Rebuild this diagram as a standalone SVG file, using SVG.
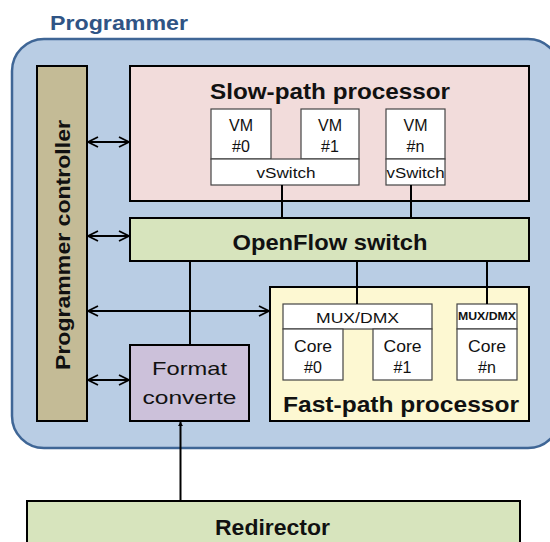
<svg xmlns="http://www.w3.org/2000/svg" width="550" height="542" viewBox="0 0 550 542">
  <defs>
    <style>
      .box { stroke: #000; stroke-width: 2; }
      .sub { fill: #fff; stroke: #444; stroke-width: 1.2; }
      .title { font-family: "Liberation Sans", Arial, sans-serif; font-weight: bold; fill: #111; text-anchor: middle; }
      .small { font-family: "Liberation Sans", Arial, sans-serif; fill: #111; text-anchor: middle; }
      .link { stroke: #000; stroke-width: 2; fill: none; }
    </style>
    <marker id="openArrow" viewBox="0 0 12 12" refX="11" refY="6" markerWidth="12" markerHeight="12" markerUnits="userSpaceOnUse" orient="auto-start-reverse">
      <path d="M1,1 L11,6 L1,11" fill="none" stroke="#000" stroke-width="1.8"/>
    </marker>
    <marker id="solidArrow" viewBox="0 0 8 10" refX="8" refY="5" markerWidth="8" markerHeight="5" markerUnits="userSpaceOnUse" orient="auto">
      <path d="M0,0 L8,5 L0,10 Z" fill="#000"/>
    </marker>
  </defs>

  <rect width="550" height="542" fill="#fff"/>

  <!-- Programmer enclosure -->
  <g id="programmer">
    <rect x="12" y="39" width="548" height="409" rx="32" ry="32" fill="#b9cde4" stroke="#3f6696" stroke-width="2.5"/>
    <text x="50" y="30" font-family="'Liberation Sans', Arial, sans-serif" font-weight="bold" font-size="20" fill="#2f5485" textLength="138" lengthAdjust="spacingAndGlyphs">Programmer</text>
  </g>

  <g id="controller">
    <rect class="box" x="37" y="66" width="50" height="355" fill="#c4bb96"/>
    <text class="title" font-size="21" transform="translate(70,245) rotate(-90)" textLength="250" lengthAdjust="spacingAndGlyphs">Programmer controller</text>
  </g>

  <g id="slow-path">
    <rect class="box" x="130" y="66" width="399" height="135" fill="#f2dcdb"/>
    <text class="title" x="330" y="99" font-size="22" textLength="240" lengthAdjust="spacingAndGlyphs">Slow-path processor</text>
  </g>

  <g id="vm0">
    <rect class="sub" x="211" y="109" width="60" height="50"/>
    <text class="small" x="241" y="131" font-size="16">VM</text>
    <text class="small" x="241" y="152" font-size="16">#0</text>
  </g>
  <g id="vm1">
    <rect class="sub" x="301" y="109" width="58" height="50"/>
    <text class="small" x="330" y="131" font-size="16">VM</text>
    <text class="small" x="330" y="152" font-size="16">#1</text>
  </g>
  <g id="vswitch-a">
    <rect class="sub" x="211" y="159" width="148" height="26"/>
    <text class="small" x="286" y="178" font-size="14" textLength="59" lengthAdjust="spacingAndGlyphs">vSwitch</text>
  </g>
  <g id="vmn">
    <rect class="sub" x="386" y="109" width="59" height="50"/>
    <text class="small" x="415.5" y="131" font-size="16">VM</text>
    <text class="small" x="415.5" y="152" font-size="16">#n</text>
  </g>
  <g id="vswitch-n">
    <rect class="sub" x="386" y="159" width="59" height="26"/>
    <text class="small" x="415.5" y="178" font-size="14" textLength="58" lengthAdjust="spacingAndGlyphs">vSwitch</text>
  </g>

  <g id="openflow">
    <rect class="box" x="130" y="218" width="399" height="43" fill="#d7e4bd"/>
    <text class="title" x="330" y="250" font-size="22" textLength="195" lengthAdjust="spacingAndGlyphs">OpenFlow switch</text>
  </g>

  <g id="fast-path">
    <rect class="box" x="270" y="287" width="259" height="134" fill="#fdf8d2"/>
    <text class="title" x="401" y="412" font-size="22" textLength="236" lengthAdjust="spacingAndGlyphs">Fast-path processor</text>
  </g>

  <g id="mux-a">
    <rect class="sub" x="283" y="304" width="149" height="25"/>
    <text class="small" x="357.5" y="323" font-size="15" textLength="83" lengthAdjust="spacingAndGlyphs">MUX/DMX</text>
  </g>
  <g id="core0">
    <rect class="sub" x="283" y="329" width="60" height="51"/>
    <text class="small" x="313" y="352" font-size="16" textLength="38" lengthAdjust="spacingAndGlyphs">Core</text>
    <text class="small" x="313" y="373" font-size="16">#0</text>
  </g>
  <g id="core1">
    <rect class="sub" x="373" y="329" width="59" height="51"/>
    <text class="small" x="402.5" y="352" font-size="16" textLength="38" lengthAdjust="spacingAndGlyphs">Core</text>
    <text class="small" x="402.5" y="373" font-size="16">#1</text>
  </g>
  <g id="mux-n">
    <rect class="sub" x="457" y="304" width="60" height="25"/>
    <text class="small" x="487" y="320" font-size="10" font-weight="bold" textLength="58" lengthAdjust="spacingAndGlyphs">MUX/DMX</text>
  </g>
  <g id="coren">
    <rect class="sub" x="457" y="329" width="60" height="51"/>
    <text class="small" x="487" y="352" font-size="16" textLength="38" lengthAdjust="spacingAndGlyphs">Core</text>
    <text class="small" x="487" y="373" font-size="16">#n</text>
  </g>

  <g id="format-converter">
    <rect class="box" x="130" y="345" width="119" height="76" fill="#ccc1da"/>
    <text class="small" x="189.5" y="375" font-size="19" textLength="75" lengthAdjust="spacingAndGlyphs">Format</text>
    <text class="small" x="189.5" y="404" font-size="19" textLength="94" lengthAdjust="spacingAndGlyphs">converte</text>
  </g>

  <g id="redirector">
    <rect class="box" x="27" y="501" width="493" height="50" fill="#d7e4bd"/>
    <text class="title" x="272.5" y="535" font-size="22" textLength="115" lengthAdjust="spacingAndGlyphs">Redirector</text>
  </g>

  <!-- Connectors -->
  <g id="connectors">
    <line class="link" x1="282" y1="185" x2="282" y2="218"/>
    <line class="link" x1="411" y1="185" x2="411" y2="218"/>
    <line class="link" x1="190" y1="261" x2="190" y2="345"/>
    <line class="link" x1="357" y1="261" x2="357" y2="304"/>
    <line class="link" x1="487" y1="261" x2="487" y2="304"/>
    <line class="link" x1="88" y1="142" x2="129" y2="142" marker-start="url(#openArrow)" marker-end="url(#openArrow)"/>
    <line class="link" x1="88" y1="236" x2="129" y2="236" marker-start="url(#openArrow)" marker-end="url(#openArrow)"/>
    <line class="link" x1="88" y1="311" x2="269" y2="311" marker-start="url(#openArrow)" marker-end="url(#openArrow)"/>
    <line class="link" x1="88" y1="380" x2="129" y2="380" marker-start="url(#openArrow)" marker-end="url(#openArrow)"/>
    <line class="link" x1="180.5" y1="501" x2="180.5" y2="422" marker-end="url(#solidArrow)"/>
  </g>
</svg>
